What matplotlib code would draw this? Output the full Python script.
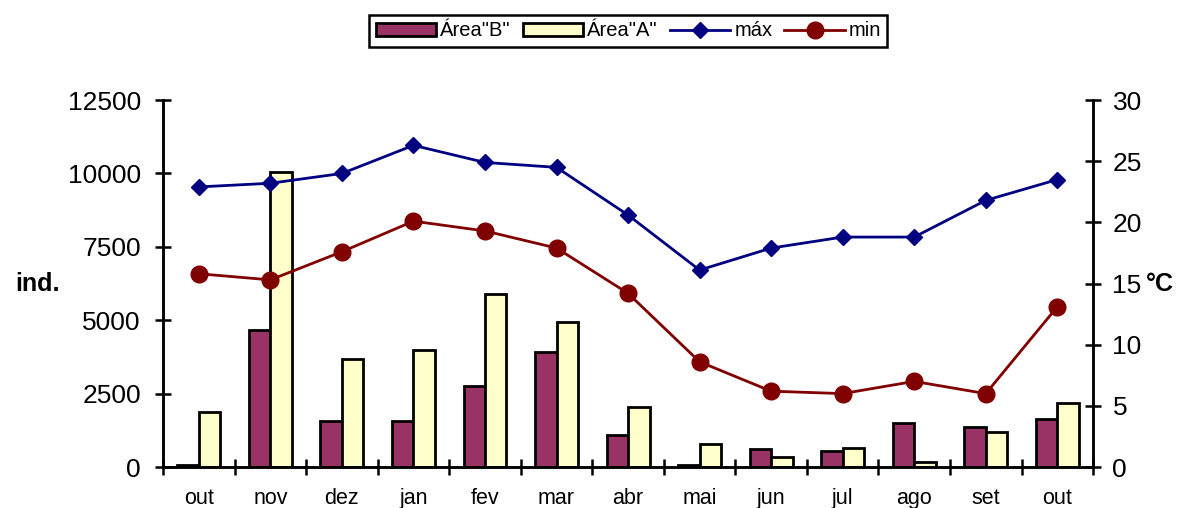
import numpy as np
import matplotlib
matplotlib.use('Agg')
import matplotlib.pyplot as plt

plt.rcParams['font.family'] = ['Liberation Sans', 'DejaVu Sans']

months = ['out', 'nov', 'dez', 'jan', 'fev', 'mar', 'abr', 'mai', 'jun', 'jul', 'ago', 'set', 'out']
area_b = [70, 4660, 1570, 1570, 2760, 3920, 1090, 70, 610, 550, 1500, 1360, 1640]
area_a = [1870, 10050, 3680, 3990, 5890, 4940, 2040, 780, 340, 650, 170, 1190, 2180]
t_max = [22.9, 23.2, 24.0, 26.3, 24.9, 24.5, 20.6, 16.1, 17.9, 18.8, 18.8, 21.8, 23.5]
t_min = [15.8, 15.3, 17.6, 20.1, 19.3, 17.9, 14.2, 8.6, 6.2, 6.0, 7.0, 6.0, 13.1]

x = np.arange(len(months))
w = 0.3

fig = plt.figure(figsize=(11.79, 5.08), dpi=100)
ax = fig.add_axes([0.1383, 0.0807, 0.7888, 0.7223])
ax2 = ax.twinx()

b1 = ax.bar(x - w / 2, area_b, w, color='#993366', edgecolor='black', linewidth=2, label='Área"B"')
b2 = ax.bar(x + w / 2, area_a, w, color='#FFFFCC', edgecolor='black', linewidth=2, label='Área"A"')

l1, = ax2.plot(x, t_max, '-D', color='#000080', lw=2, markersize=8.5, label='máx')
l2, = ax2.plot(x, t_min, '-o', color='#800000', lw=2, markersize=12, label='min')

ax.set_xlim(-0.5, len(months) - 0.5)
ax.set_ylim(0, 12500)
ax2.set_ylim(0, 30)
ax.set_yticks(np.arange(0, 12501, 2500))
ax2.set_yticks(np.arange(0, 31, 5))

ax.set_xticks(np.arange(-0.5, len(months), 1.0))
ax.set_xticklabels([])
ax.set_xticks(x, minor=True)
ax.set_xticklabels(months, minor=True, fontsize=15.5)
ax.tick_params(axis='x', which='major', direction='inout', length=12, width=1.8)
ax.tick_params(axis='x', which='minor', length=0, pad=15)
ax.tick_params(axis='y', direction='inout', length=12, width=1.8, labelsize=19, pad=10)
ax2.tick_params(axis='y', direction='inout', length=12, width=1.8, labelsize=19, pad=8)

for a in (ax, ax2):
    a.spines['top'].set_visible(False)
    for s in ('left', 'right', 'bottom'):
        a.spines[s].set_linewidth(1.8)

fig.text(0.013, 0.44, 'ind.', fontsize=18, fontweight='bold', va='center')
fig.text(0.972, 0.44, '°C', fontsize=18, fontweight='bold', va='center')

leg = fig.legend([b1, b2, l1, l2], ['Área"B"', 'Área"A"', 'máx', 'min'],
                 loc='center', bbox_to_anchor=(0.533, 0.939), ncol=4, fontsize=14.5,
                 frameon=True, fancybox=False, edgecolor='black', framealpha=1,
                 handlelength=3, handletextpad=0.2, columnspacing=0.6,
                 borderpad=0.3, handleheight=0.6)
leg.get_frame().set_linewidth(1.8)

fig.savefig('out.png', dpi=100)
